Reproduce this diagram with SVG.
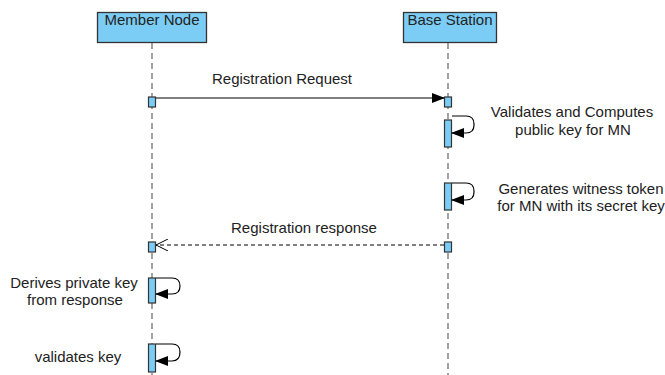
<svg xmlns="http://www.w3.org/2000/svg" width="665" height="375" viewBox="0 0 665 375">
  <defs>
    <style>
      text { font-family: "Liberation Sans", Arial, sans-serif; font-size: 15px; fill: #222; }
      .head { fill: #7ccdf5; stroke: #333; stroke-width: 1.3; }
      .act { fill: #7ccdf5; stroke: #333; stroke-width: 1.2; }
      .life { stroke: #666; stroke-width: 1.2; stroke-dasharray: 6 4; fill: none; }
      .msg { stroke: #000; stroke-width: 1.2; fill: none; }
      .reply { stroke: #000; stroke-width: 1; stroke-dasharray: 4 3; fill: none; }
      .loop { stroke: #000; stroke-width: 1.2; fill: none; }
    </style>
    <marker id="solid" markerWidth="13" markerHeight="10" refX="12" refY="5" orient="auto" markerUnits="userSpaceOnUse">
      <path d="M0,0 L13,5 L0,10 Z" fill="#000"/>
    </marker>
    <marker id="open" markerWidth="13" markerHeight="12" refX="12" refY="6" orient="auto" markerUnits="userSpaceOnUse">
      <path d="M0,0 L12,6 L0,12" fill="none" stroke="#000" stroke-width="1"/>
    </marker>
  </defs>

  <!-- lifelines -->
  <g id="lifelines">
    <line class="life" x1="152" y1="43" x2="152" y2="375"/>
    <line class="life" x1="448" y1="43" x2="448" y2="375"/>
  </g>

  <g id="member-node">
    <rect class="head" x="97.5" y="12.5" width="109" height="30"/>
    <text x="152" y="25" text-anchor="middle">Member Node</text>
  </g>

  <g id="base-station">
    <rect class="head" x="403.5" y="12.5" width="93" height="30"/>
    <text x="450" y="25" text-anchor="middle">Base Station</text>
  </g>

  <!-- activation bars -->
  <g id="activations">
    <rect class="act" x="148.5" y="97" width="7" height="10"/>
    <rect class="act" x="444.5" y="97" width="7" height="10"/>
    <rect class="act" x="444.5" y="120" width="7" height="27"/>
    <rect class="act" x="444.5" y="183" width="7" height="27"/>
    <rect class="act" x="148.5" y="242" width="7" height="10"/>
    <rect class="act" x="444.5" y="242" width="7" height="10"/>
    <rect class="act" x="148.5" y="278" width="7" height="25"/>
    <rect class="act" x="148.5" y="344" width="7" height="28"/>
  </g>

  <!-- messages -->
  <g id="connectors">
    <line class="msg" x1="156" y1="98" x2="444" y2="98" marker-end="url(#solid)"/>
    <path class="loop" d="M452,116 H466 Q474,116 474,124 V125 Q474,133 466,133 H452" marker-end="url(#solid)"/>
    <path class="loop" d="M452,183 H466 Q474,183 474,191 V192 Q474,200 466,200 H452" marker-end="url(#solid)"/>
    <line class="reply" x1="444" y1="245" x2="156" y2="245" marker-end="url(#open)"/>
    <path class="loop" d="M156,278 H172 Q180,278 180,286 Q180,294 172,294 H156" marker-end="url(#solid)"/>
    <path class="loop" d="M156,344 H172 Q180,344 180,352 Q180,361 172,361 H156" marker-end="url(#solid)"/>
  </g>

  <!-- labels -->
  <g id="labels">
    <text x="282" y="84" text-anchor="middle">Registration Request</text>
    <text x="572" y="117" text-anchor="middle">Validates and Computes</text>
    <text x="573" y="135" text-anchor="middle">public key for MN</text>
    <text x="581" y="194" text-anchor="middle">Generates witness token</text>
    <text x="581" y="211" text-anchor="middle">for MN with its secret key</text>
    <text x="304" y="233" text-anchor="middle">Registration response</text>
    <text x="74" y="288" text-anchor="middle">Derives private key</text>
    <text x="75" y="305" text-anchor="middle">from response</text>
    <text x="78" y="362" text-anchor="middle">validates key</text>
  </g>
</svg>
